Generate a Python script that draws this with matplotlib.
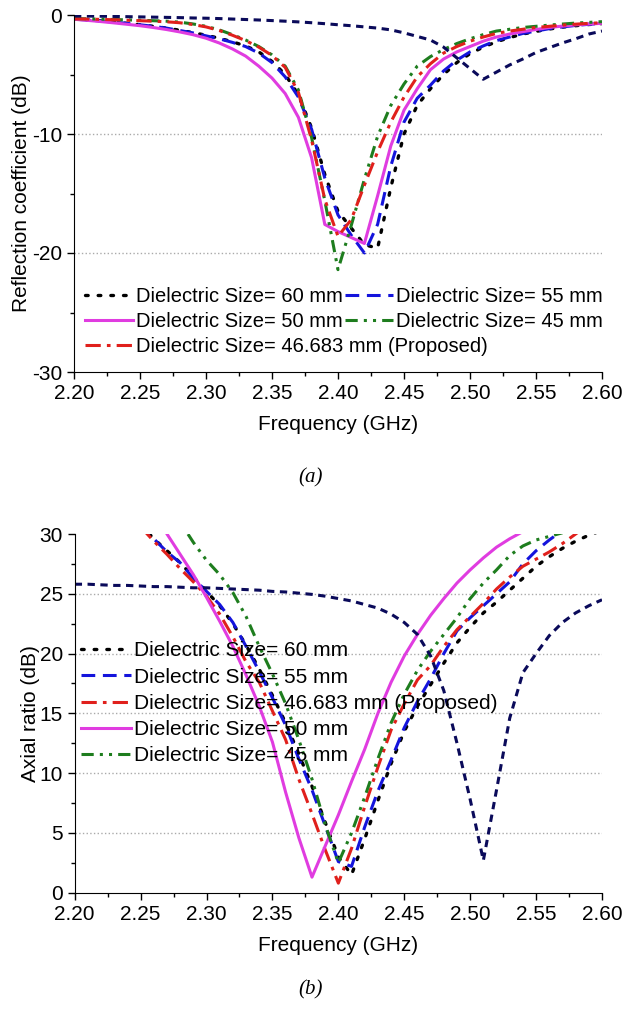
import matplotlib
matplotlib.use("Agg")
import matplotlib.pyplot as plt
import numpy as np
from matplotlib.ticker import MultipleLocator, FormatStrFormatter

plt.rcParams['font.family'] = ['Liberation Sans', 'DejaVu Sans']
plt.rcParams['axes.unicode_minus'] = False

# frequency grid (GHz), 0.01 step
freq = np.linspace(2.20, 2.60, 41)

# ---- (a) reflection coefficient (dB) ----
s11_60 = [-0.35, -0.42, -0.5, -0.6, -0.7, -0.82, -0.95, -1.1, -1.28, -1.48,
          -1.7, -1.95, -2.25, -2.6, -3.1, -3.9, -5.0, -6.7, -9.5, -13.4,
          -16.5, -17.9, -19.3, -19.6, -14.5, -10.0, -7.6, -6.2, -5.0, -4.0,
          -3.25, -2.7, -2.25, -1.9, -1.6, -1.38, -1.18, -1.02, -0.9, -0.8, -0.72]
s11_55 = [-0.35, -0.42, -0.5, -0.6, -0.7, -0.82, -0.95, -1.1, -1.3, -1.5,
          -1.75, -2.0, -2.3, -2.65, -3.2, -4.0, -5.2, -6.9, -9.6, -13.7,
          -16.8, -18.5, -20.0, -17.6, -12.7, -9.0, -7.0, -5.9, -4.7, -3.8,
          -3.1, -2.6, -2.15, -1.85, -1.55, -1.35, -1.15, -1.0, -0.88, -0.78, -0.7]
s11_50 = [-0.36, -0.45, -0.55, -0.66, -0.78, -0.9, -1.05, -1.22, -1.42, -1.65,
          -1.95, -2.35, -2.85, -3.45, -4.3, -5.3, -6.6, -8.6, -12.0, -17.6,
          -18.2, -18.7, -19.2, -15.2, -11.0, -8.0, -6.2, -4.6, -3.7, -3.1,
          -2.65, -2.2, -1.85, -1.6, -1.4, -1.22, -1.05, -0.93, -0.83, -0.76, -0.7]
s11_45 = [-0.3, -0.32, -0.35, -0.38, -0.41, -0.44, -0.48, -0.52, -0.6, -0.75,
          -0.95, -1.25, -1.65, -2.1, -2.65, -3.35, -4.3, -6.3, -10.3, -15.6,
          -21.4, -17.7, -13.8, -10.2, -7.6, -5.8, -4.3, -3.5, -2.9, -2.4,
          -2.0, -1.65, -1.35, -1.2, -1.05, -0.95, -0.85, -0.76, -0.68, -0.62, -0.56]
s11_prop = [-0.32, -0.34, -0.37, -0.4, -0.44, -0.48, -0.52, -0.57, -0.65, -0.8,
            -1.0, -1.3, -1.7, -2.15, -2.7, -3.4, -4.4, -6.5, -10.5, -15.5,
            -18.6, -17.2, -14.3, -11.5, -9.0, -6.9, -5.2, -4.1, -3.2, -2.65,
            -2.2, -1.85, -1.55, -1.35, -1.2, -1.05, -0.95, -0.85, -0.77, -0.7, -0.65]
s11_ref = [-0.08, -0.09, -0.1, -0.12, -0.14, -0.16, -0.18, -0.2, -0.22, -0.25,
           -0.27, -0.3, -0.34, -0.38, -0.42, -0.47, -0.52, -0.58, -0.65, -0.73,
           -0.82, -0.9, -1.0, -1.1, -1.25, -1.5, -1.8, -2.1, -2.7, -3.6,
           -4.5, -5.4, -4.8, -4.2, -3.7, -3.15, -2.75, -2.35, -2.0, -1.6, -1.35]

# ---- (b) axial ratio (dB) ----
ar_ref = [25.8, 25.8, 25.75, 25.7, 25.7, 25.65, 25.6, 25.6, 25.55, 25.5,
          25.5, 25.45, 25.4, 25.35, 25.3, 25.2, 25.15, 25.05, 24.95, 24.8,
          24.6, 24.4, 24.1, 23.8, 23.3, 22.6, 21.6, 19.8, 16.9, 12.5,
          7.8, 2.7, 8.6, 14.6, 18.4, 20.0, 21.5, 22.6, 23.4, 24.0, 24.5]

f_ar60 = freq[5:]
ar_60 = [30.8, 29.6, 28.6, 27.6, 26.4, 25.2, 24.0, 22.5, 20.7, 18.7,
         16.5, 14.2, 11.6, 8.9, 5.9, 3.0, 1.5, 4.5, 7.7, 10.8,
         13.5, 15.6, 17.4, 19.2, 20.9, 22.2, 23.4, 24.3, 25.3, 26.3,
         27.3, 28.1, 28.8, 29.4, 29.9, 30.3]
f_ar55 = freq[5:38]
ar_55 = [30.8, 29.6, 28.5, 27.6, 26.3, 25.2, 24.1, 22.6, 20.6, 18.5,
         16.3, 14.0, 11.2, 8.6, 5.6, 2.6, 2.2, 5.5, 8.5, 11.1,
         13.8, 16.0, 17.9, 20.0, 21.9, 23.0, 24.0, 25.0, 26.0, 27.5,
         28.6, 29.5, 30.3]
f_arprop = freq[5:40]
ar_prop = [30.6, 29.4, 28.3, 27.1, 26.0, 24.8, 23.3, 21.4, 19.3, 17.6,
           15.2, 12.8, 9.5, 6.6, 3.6, 0.8, 3.7, 7.2, 10.5, 13.6,
           15.8, 17.8, 19.0, 20.6, 22.0, 23.1, 24.2, 25.4, 26.4, 27.3,
           27.9, 28.5, 29.2, 30.0, 30.8]
f_ar50 = freq[6:35]
ar_50 = [31.8, 30.0, 28.3, 26.6, 24.7, 22.7, 20.6, 18.2, 15.6, 12.6,
         8.4, 4.6, 1.3, 3.9, 6.5, 9.3, 12.0, 15.0, 17.6, 19.8,
         21.6, 23.2, 24.6, 25.9, 27.0, 28.0, 28.9, 29.6, 30.2]
f_ar45 = freq[7:38]
ar_45 = [32.5, 31.0, 29.3, 27.8, 26.6, 25.1, 23.1, 20.6, 18.3, 15.8,
         12.8, 9.5, 5.7, 2.5, 5.0, 8.0, 11.2, 14.2, 16.6, 18.6,
         20.2, 21.6, 23.0, 24.6, 25.9, 27.0, 28.2, 29.0, 29.5, 29.8, 30.1]

lab60 = 'Dielectric Size= 60 mm'
lab55 = 'Dielectric Size= 55 mm'
lab50 = 'Dielectric Size= 50 mm'
lab45 = 'Dielectric Size= 45 mm'
labprop = 'Dielectric Size= 46.683 mm (Proposed)'

# styles
st60 = dict(color='black', ls=(0, (0.8, 3)), lw=2.4, dash_capstyle='round')
st55 = dict(color='#1414dc', ls=(0, (4.5, 2.5)), lw=2.2)
st50 = dict(color='#e03ce0', ls='-', lw=2.2)
st45 = dict(color='#1e7d1e', ls=(0, (4, 2, 1, 2, 1, 2)), lw=2.2)
stprop = dict(color='#e0201c', ls=(0, (5, 2, 1.2, 2)), lw=2.2)
stref = dict(color='#0a0a5a', ls=(0, (2.4, 1.8)), lw=2.2)


def style_axes(ax):
    for s in ['top', 'right']:
        ax.spines[s].set_visible(False)
    ax.set_xlim(2.2, 2.6)
    ax.set_xticks(np.linspace(2.2, 2.6, 9))
    ax.xaxis.set_minor_locator(MultipleLocator(0.025))
    ax.xaxis.set_major_formatter(FormatStrFormatter('%.2f'))
    ax.tick_params(which='major', direction='out', length=5, width=1, labelsize=15)
    ax.tick_params(which='minor', direction='out', length=3, width=1)
    ax.set_xlabel('Frequency (GHz)', fontsize=15, labelpad=9)


fig = plt.figure(figsize=(6.22, 10.15), dpi=100)

# (a)
ax1 = fig.add_axes([74 / 622, 1 - 372 / 1015, 528 / 622, 357 / 1015])
h60, = ax1.plot(freq, s11_60, **st60)
h55, = ax1.plot(freq, s11_55, **st55)
h50, = ax1.plot(freq, s11_50, **st50)
h45, = ax1.plot(freq, s11_45, **st45)
hp, = ax1.plot(freq, s11_prop, **stprop)
ax1.plot(freq, s11_ref, **stref)
style_axes(ax1)
ax1.set_ylim(-30, 0)
ax1.yaxis.set_major_locator(MultipleLocator(10))
ax1.yaxis.set_minor_locator(MultipleLocator(5))
for g in [-10, -20]:
    ax1.axhline(g, color='#aaaaaa', ls=':', lw=1, zorder=0)
ax1.set_ylabel('Reflection coefficient (dB)', fontsize=15, labelpad=1)

leg_kw = dict(loc='upper left', frameon=False, fontsize=14.5, handlelength=2.4,
              handletextpad=0.15, columnspacing=0.1, labelspacing=0.3,
              borderpad=0, borderaxespad=0)
leg1 = ax1.legend([h60, h50, h55, h45], [lab60, lab50, lab55, lab45], ncol=2,
                  bbox_to_anchor=(0.02, 0.237), **leg_kw)
ax1.add_artist(leg1)
ax1.legend([hp], [labprop], bbox_to_anchor=(0.02, 0.097), **leg_kw)

# (b)
ax2 = fig.add_axes([74.7 / 622, 1 - 892.7 / 1015, 527.3 / 622, 358.7 / 1015])
g60, = ax2.plot(f_ar60, ar_60, **st60)
g55, = ax2.plot(f_ar55, ar_55, **st55)
gp, = ax2.plot(f_arprop, ar_prop, **stprop)
g50, = ax2.plot(f_ar50, ar_50, **st50)
g45, = ax2.plot(f_ar45, ar_45, **st45)
ax2.plot(freq, ar_ref, **stref)
style_axes(ax2)
ax2.set_ylim(0, 30)
ax2.yaxis.set_major_locator(MultipleLocator(5))
ax2.yaxis.set_minor_locator(MultipleLocator(2.5))
for g in [5, 10, 15, 20, 25]:
    ax2.axhline(g, color='#aaaaaa', ls=':', lw=1, zorder=0)
ax2.set_ylabel('Axial ratio (dB)', fontsize=15, labelpad=0)
ax2.legend([g60, g55, gp, g50, g45], [lab60, lab55, labprop, lab50, lab45],
           loc='upper left', bbox_to_anchor=(0.012, 0.701), frameon=False,
           fontsize=15, handlelength=2.4, handletextpad=0.15,
           labelspacing=0.35, borderpad=0, borderaxespad=0)

fig.text(0.5, 1 - 478 / 1015, '(a)', ha='center', va='center', fontsize=15,
         style='italic', family='Liberation Serif')
fig.text(0.5, 1 - 990 / 1015, '(b)', ha='center', va='center', fontsize=15,
         style='italic', family='Liberation Serif')

fig.savefig('out.png', dpi=100)
